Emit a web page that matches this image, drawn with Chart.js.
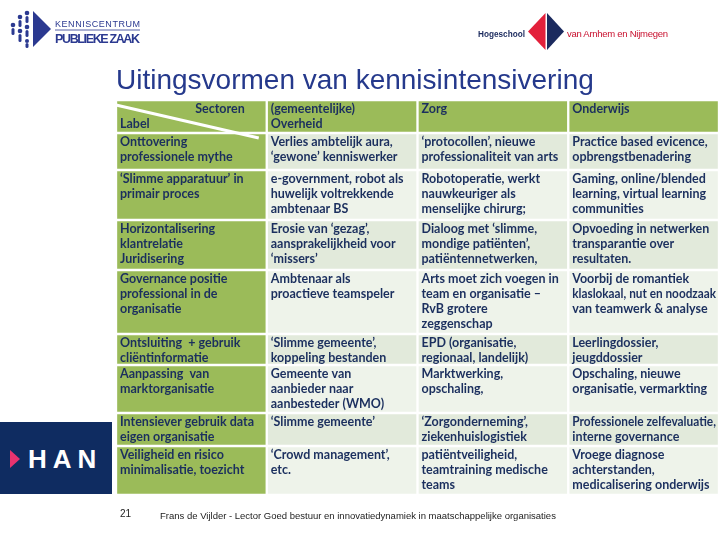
<!DOCTYPE html>
<html>
<head>
<meta charset="utf-8">
<script src="https://cdn.jsdelivr.net/npm/chart.js@4.4.1/dist/chart.umd.min.js"></script>
<style>
  html, body { margin: 0; padding: 0; background: #fff; }
  #wrap { position: relative; width: 720px; height: 540px; overflow: hidden; }
  #chart { position: absolute; left: 0; top: 0; }
  .abs { position: absolute; }
  .foot { font-family: 'Liberation Sans', Arial, sans-serif; font-size: 9.5px; color: #222; white-space: nowrap; }
</style>
</head>
<body>
<div id="wrap">
  <canvas id="chart" width="720" height="540"></canvas>

  <!-- Kenniscentrum Publieke Zaak logo -->
  <svg class="abs" style="left:0;top:0" width="160" height="55">
    <g fill="#2b3990">
      <circle cx="13" cy="25" r="2.3"/><rect x="11.5" y="28" width="3" height="7" rx="1.5"/>
      <circle cx="20" cy="17" r="2.3"/><rect x="18.5" y="20" width="3" height="7" rx="1.5"/>
      <circle cx="20" cy="31" r="2.3"/><rect x="18.5" y="34" width="3" height="8" rx="1.5"/>
      <circle cx="27" cy="13" r="2.3"/><rect x="25.5" y="16" width="3" height="7" rx="1.5"/>
      <circle cx="27" cy="27" r="2.3"/><rect x="25.5" y="30" width="3" height="7" rx="1.5"/>
      <circle cx="27" cy="41" r="2"/><rect x="25.5" y="43" width="3" height="5" rx="1.5"/>
      <polygon points="33,11 33,47 51,29"/>
    </g>
    <text x="55" y="27" font-family="Liberation Sans, Arial" font-size="9" fill="#2b3990" textLength="85" lengthAdjust="spacing">KENNISCENTRUM</text>
    <line x1="55" y1="30" x2="140" y2="30" stroke="#2b3990" stroke-width="0.8"/>
    <text x="55" y="42.5" font-family="Liberation Sans, Arial" font-weight="bold" font-size="12.5" fill="#2b3990" textLength="85">PUBLIEKE ZAAK</text>
  </svg>

  <!-- Hogeschool van Arnhem en Nijmegen logo -->
  <svg class="abs" style="left:470px;top:8px" width="210" height="48">
    <text x="8" y="28.5" font-family="Liberation Sans, Arial" font-weight="bold" font-size="9" fill="#1b2a5e" textLength="47" lengthAdjust="spacingAndGlyphs">Hogeschool</text>
    <polygon points="58,23.5 75.5,5 75.5,42" fill="#e3203b"/>
    <polygon points="77,5 94,23.5 77,42" fill="#1b2a5e"/>
    <text x="97" y="28.5" font-family="Liberation Sans, Arial" font-size="9.5" fill="#c8102e" textLength="101">van Arnhem en Nijmegen</text>
  </svg>

  <!-- HAN block -->
  <svg class="abs" style="left:0;top:422px" width="113" height="72">
    <rect x="0" y="0" width="112" height="72" fill="#0f2c61"/>
    <polygon points="10,28 10,46 20,37" fill="#e8336f"/>
    <text x="28" y="46" font-family="Liberation Sans, Arial" font-weight="bold" font-size="26" fill="#fff" letter-spacing="6">HAN</text>
  </svg>

  <div class="abs foot" style="left:120px;top:508px;font-size:10px">21</div>
  <div class="abs foot" style="left:160px;top:510px">Frans de Vijlder - Lector Goed bestuur en innovatiedynamiek in maatschappelijke organisaties</div>
</div>

<script>
// columns of the table (x categories)
const sectors = ['Label', 'Overheid', 'Zorg', 'Onderwijs'];

// row heights (header + 8 rows), in table units
const rowHeights = [33, 37, 50, 50, 64, 31, 48, 33, 49];

const headerText = [
    ['Sectoren', 'Label'],
    ['(gemeentelijke)', 'Overheid'],
    ['Zorg'],
    ['Onderwijs']
];

const labelText = [
    ['Onttovering', 'professionele mythe'],
    ['‘Slimme apparatuur’ in', 'primair proces'],
    ['Horizontalisering', 'klantrelatie', 'Juridisering'],
    ['Governance positie', 'professional in de', 'organisatie'],
    ['Ontsluiting  + gebruik', 'cliëntinformatie'],
    ['Aanpassing  van', 'marktorganisatie'],
    ['Intensiever gebruik data', 'eigen organisatie'],
    ['Veiligheid en risico', 'minimalisatie, toezicht']
];

const overheidText = [
    ['Verlies ambtelijk aura,', '‘gewone’ kenniswerker'],
    ['e-government, robot als', 'huwelijk voltrekkende', 'ambtenaar BS'],
    ['Erosie van ‘gezag’,', 'aansprakelijkheid voor', '‘missers’'],
    ['Ambtenaar als', 'proactieve teamspeler'],
    ['‘Slimme gemeente’,', 'koppeling bestanden'],
    ['Gemeente van', 'aanbieder naar', 'aanbesteder (WMO)'],
    ['‘Slimme gemeente’'],
    ['‘Crowd management’,', 'etc.']
];

const zorgText = [
    ['‘protocollen’, nieuwe', 'professionaliteit van arts'],
    ['Robotoperatie, werkt', 'nauwkeuriger als', 'menselijke chirurg;'],
    ['Dialoog met ‘slimme,', 'mondige patiënten’,', 'patiëntennetwerken,'],
    ['Arts moet zich voegen in', 'team en organisatie –', 'RvB grotere', 'zeggenschap'],
    ['EPD (organisatie,', 'regionaal, landelijk)'],
    ['Marktwerking,', 'opschaling,'],
    ['‘Zorgonderneming’,', 'ziekenhuislogistiek'],
    ['patiëntveiligheid,', 'teamtraining medische', 'teams']
];

const onderwijsText = [
    ['Practice based evicence,', 'opbrengstbenadering'],
    ['Gaming, online/blended', 'learning, virtual learning', 'communities'],
    ['Opvoeding in netwerken', 'transparantie over', 'resultaten.'],
    ['Voorbij de romantiek', 'klaslokaal, nut en noodzaak', 'van teamwerk & analyse'],
    ['Leerlingdossier,', 'jeugddossier'],
    ['Opschaling, nieuwe', 'organisatie, vermarkting'],
    ['Professionele zelfevaluatie,', 'interne governance'],
    ['Vroege diagnose', 'achterstanden,', 'medicalisering onderwijs']
];

const green = '#9bbb59';
const cellDark = '#e2eadb';
const cellPale = '#eef3ea';
const textColor = '#1b2f5e';
const cellFont = "bold 12.5px Lato, 'Open Sans', sans-serif";

const rows = [headerText].concat(labelText.map((l, i) => [l, overheidText[i], zorgText[i], onderwijsText[i]]));

const datasets = rows.map((cells, i) => ({
    label: i === 0 ? 'Sectoren' : labelText[i - 1][0],
    data: sectors.map(() => rowHeights[i]),
    cells: cells,
    backgroundColor: sectors.map((s, j) => (i === 0 || j === 0) ? green : (i % 2 ? cellDark : cellPale)),
    borderColor: '#ffffff',
    borderWidth: 1.5,
    borderSkipped: false,
    categoryPercentage: 1,
    barPercentage: 1
}));

// writes the cell texts and the diagonal of the corner cell
const cellText = {
    id: 'cellText',
    afterDatasetsDraw(chart) {
        const ctx = chart.ctx;
        ctx.save();
        const corner = chart.getDatasetMeta(0).data[0];
        const cl = corner.x - corner.width / 2;
        const ct = Math.min(corner.y, corner.base);
        const cb = Math.max(corner.y, corner.base);
        ctx.strokeStyle = '#ffffff';
        ctx.lineWidth = 3;
        ctx.beginPath();
        ctx.moveTo(cl, ct + 5);
        ctx.lineTo(cl + corner.width - 8, cb + 5);
        ctx.stroke();

        ctx.font = cellFont;
        ctx.fillStyle = textColor;
        ctx.textBaseline = 'middle';
        chart.data.datasets.forEach((ds, i) => {
            chart.getDatasetMeta(i).data.forEach((bar, j) => {
                const left = bar.x - bar.width / 2;
                const top = Math.min(bar.y, bar.base);
                ds.cells[j].forEach((line, k) => {
                    let x = left + 4;
                    ctx.textAlign = 'left';
                    if (i === 0 && j === 0 && k === 0) {
                        x = left + bar.width - 22;
                        ctx.textAlign = 'right';
                    }
                    ctx.fillText(line, x, top + 9 + k * 15, bar.width - 7);
                });
            });
        });
        ctx.restore();
    }
};

new Chart(document.getElementById('chart'), {
    type: 'bar',
    data: {
        labels: sectors,
        datasets: datasets
    },
    options: {
        responsive: false,
        animation: false,
        layout: {
            padding: { left: 116, right: 1, top: 60, bottom: 45 }
        },
        plugins: {
            legend: { display: false },
            tooltip: { enabled: false },
            title: {
                display: true,
                text: 'Uitingsvormen van kennisintensivering',
                align: 'start',
                color: '#25398c',
                font: { family: "'Liberation Sans', Arial, sans-serif", size: 28, weight: 'normal' },
                padding: { top: 4, bottom: 2.4 }
            }
        },
        scales: {
            x: {
                display: false,
                stacked: true
            },
            y: {
                display: false,
                stacked: true,
                reverse: true,
                min: 0,
                max: rowHeights.reduce((a, b) => a + b, 0)
            }
        }
    },
    plugins: [cellText]
});
</script>
</body>
</html>
